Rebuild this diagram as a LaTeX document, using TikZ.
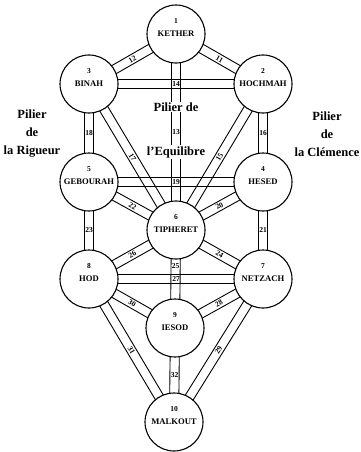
\documentclass[tikz,border=0pt]{standalone}
\usepackage{fontspec}
\setmainfont{Liberation Serif}
\usetikzlibrary{calc,backgrounds}

\begin{document}
\begin{tikzpicture}[x=1pt,y=-1pt,
      sefira/.style={circle,
            draw,
            line width=1.1pt,
            fill=white,
            minimum size=58pt,
            inner sep=0pt,
            font=\fontsize{8.6}{10}\selectfont\bfseries,
            label={[num]center:#1}},
      num/.style={yshift=12.5pt, font=\fontsize{7.5}{9}\selectfont\bfseries},
      chan/.style={line width=0.9pt,
            to path={($(\tikztostart)!4.6pt!90:(\tikztotarget)$) -- ($(\tikztotarget)!4.6pt!-90:(\tikztostart)$)
                     ($(\tikztostart)!4.6pt!-90:(\tikztotarget)$) -- ($(\tikztotarget)!4.6pt!90:(\tikztostart)$)}},
      pathnum/.style={midway, inner sep=0pt, font=\fontsize{7.5}{8}\selectfont\bfseries},
      pillar/.style={align=center, font=\fontsize{12.5}{18}\selectfont\bfseries}]

      \useasboundingbox (0,0) rectangle (360,452);

      \node[sefira=1] (keter) at (176,34) {KETHER};
      \node[sefira=2] (hochmah) at (263,84) {HOCHMAH};
      \node[sefira=3] (binah) at (89,84) {BINAH};
      \node[sefira=4] (hesed) at (263,182) {HESED};
      \node[sefira=5] (gebourah) at (89,182) {GEBOURAH};
      \node[sefira=6] (tipheret) at (176,230) {TIPHERET};
      \node[sefira=7] (netzach) at (263,279) {NETZACH};
      \node[sefira=8] (hod) at (89,279) {HOD};
      \node[sefira=9] (iesod) at (175,328) {IESOD};
      \node[sefira=10] (malkout) at (174,422) {MALKOUT};

      \node[pillar] (rigueur) at (32,134) {Pilier\\de\\la Rigueur};
      \node[pillar] (clemence) at (327,134) {Pilier\\de\\la Clémence};
      \node[pillar, fill=white, inner sep=1pt] (equi1) at (176,107) {Pilier de};
      \node[pillar, fill=white, inner sep=1pt] (equi2) at (176,152) {l'Equilibre};

      % the 22 paths, two lines each
      \begin{scope}[on background layer]
      \draw[chan]
      (keter) edge (hochmah)
      (keter) edge (binah)
      (keter) edge (tipheret)
      (binah) edge (hochmah)
      (hochmah) edge (tipheret)
      (hochmah) edge (hesed)
      (binah) edge (tipheret)
      (binah) edge (gebourah)
      (gebourah) edge (hesed)
      (hesed) edge (tipheret)
      (hesed) edge (netzach)
      (gebourah) edge (tipheret)
      (gebourah) edge (hod)
      (tipheret) edge (netzach)
      (tipheret) edge (iesod)
      (tipheret) edge (hod)
      (hod) edge (netzach)
      (netzach) edge (iesod)
      (netzach) edge (malkout)
      (hod) edge (iesod)
      (hod) edge (malkout)
      (iesod) edge (malkout);
      \end{scope}

      % path numbers
      \path[every edge/.style={draw=none}, every node/.style={pathnum}]
      (keter) edge node[sloped] {11} (hochmah)
      (keter) edge node[sloped] {12} (binah)
      (keter) edge node {13} (tipheret)
      (binah) edge node {14} (hochmah)
      (hochmah) edge node[sloped] {15} (tipheret)
      (hochmah) edge node {16} (hesed)
      (binah) edge node[sloped] {17} (tipheret)
      (binah) edge node {18} (gebourah)
      (gebourah) edge node {19} (hesed)
      (hesed) edge node[sloped] {20} (tipheret)
      (hesed) edge node {21} (netzach)
      (gebourah) edge node[sloped] {22} (tipheret)
      (gebourah) edge node {23} (hod)
      (tipheret) edge node[sloped] {24} (netzach)
      (tipheret) edge node[pos=0.18] {25} (iesod)
      (tipheret) edge node[sloped] {26} (hod)
      (hod) edge node {27} (netzach)
      (netzach) edge node[sloped] {28} (iesod)
      (netzach) edge node[sloped] {29} (malkout)
      (hod) edge node[sloped] {30} (iesod)
      (hod) edge node[sloped] {31} (malkout)
      (iesod) edge node {32} (malkout);

\end{tikzpicture}
\end{document}
